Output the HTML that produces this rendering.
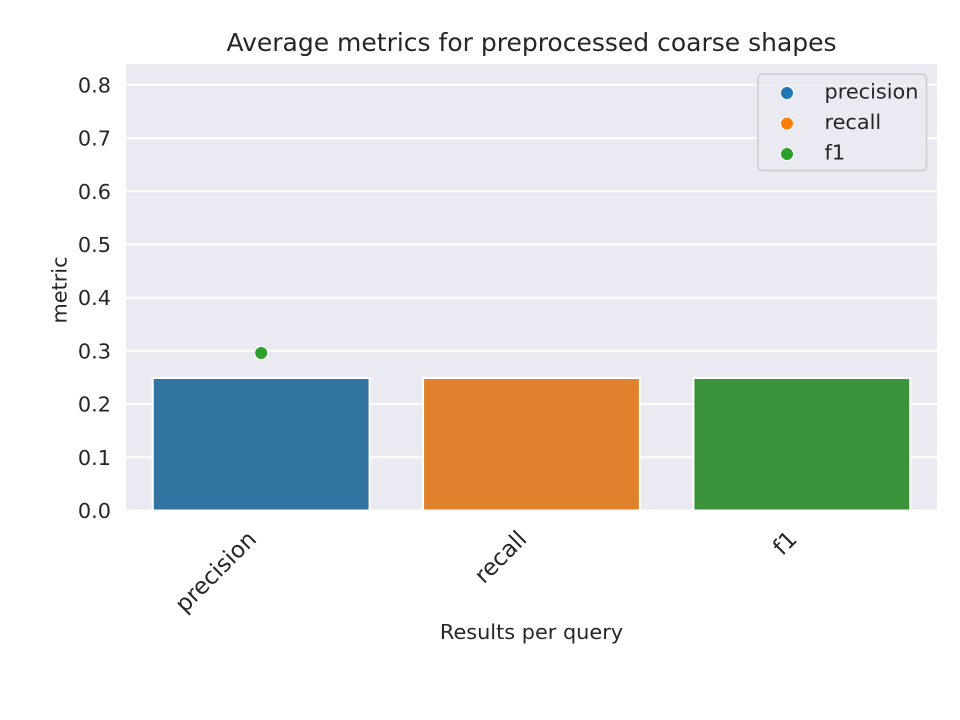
<!DOCTYPE html>
<html>
<head>
<meta charset="utf-8">
<title>Average metrics for preprocessed coarse shapes</title>
<style>
html,body{margin:0;padding:0;background:#fff;}
svg{display:block;}
text{font-family:"DejaVu Sans","Liberation Sans",sans-serif;fill:#262626;}
</style>
</head>
<body>
<svg id="chart" xmlns="http://www.w3.org/2000/svg" width="960" height="720" viewBox="0 0 960 720">
  <rect x="0" y="0" width="960" height="720" fill="#ffffff"/>
  <rect x="126" y="64" width="811" height="446.5" fill="#eaeaf2"/>
  <g id="grid"></g>
  <g id="bars"></g>
  <g id="points"></g>
  <g id="yticks"></g>
  <g id="xticks"></g>
  <text x="531.5" y="51" font-size="25" text-anchor="middle">Average metrics for preprocessed coarse shapes</text>
  <text x="531.5" y="639" font-size="20.83" text-anchor="middle">Results per query</text>
  <text x="0" y="0" font-size="20.83" text-anchor="middle" transform="translate(66.5 290) rotate(-90)">metric</text>
  <g>
    <rect x="758" y="74" width="168.5" height="96.5" rx="4" ry="4" fill="#eaeaf2" fill-opacity="0.8" stroke="#cccccc" stroke-width="1.5"/>
    <g id="legend-items"></g>
  </g>
</svg>
<script>
const categories = ["precision", "recall", "f1"];
const barValues = [0.249, 0.249, 0.249];
const pointValues = [0.296, 0.296, 0.296];
const pointSeries = ["precision", "recall", "f1"];
const yTickLabels = ["0.0", "0.1", "0.2", "0.3", "0.4", "0.5", "0.6", "0.7", "0.8"];
const barColors = ["#3274a1", "#e1812c", "#3a923a"];
const pointColors = ["#1f77b4", "#ff7f0e", "#2ca02c"];

const NS = "http://www.w3.org/2000/svg";
const plotLeft = 126, plotRight = 937, plotBottom = 510.5;
const pxPerUnit = 532;
const bandWidth = (plotRight - plotLeft) / categories.length;
const barShare = 0.802;

function yScale(v) { return plotBottom - v * pxPerUnit; }
function xScale(i) { return plotLeft + (i + 0.5) * bandWidth; }
function make(tag, attrs, parent) {
  const el = document.createElementNS(NS, tag);
  for (const k in attrs) el.setAttribute(k, attrs[k]);
  parent.appendChild(el);
  return el;
}

const gridG = document.getElementById("grid");
const yG = document.getElementById("yticks");
yTickLabels.forEach(function (label) {
  const v = parseFloat(label);
  const line = make("line", { x1: plotLeft, x2: plotRight, y1: yScale(v), y2: yScale(v), stroke: "#ffffff", "stroke-width": 2 }, gridG);
  
  
  const t = make("text", { x: 111, y: yScale(v) + 7.5, "font-size": 20.83, "text-anchor": "end" }, yG);
  t.textContent = label;
  
  
});

const barsG = document.getElementById("bars");
const xG = document.getElementById("xticks");
categories.forEach(function (cat, i) {
  const w = bandWidth * barShare;
  const top = yScale(barValues[i]);
  const bar = make("rect", { x: xScale(i) - w / 2, y: top, width: w, height: plotBottom - top, fill: barColors[i], stroke: "#ffffff", "stroke-width": 2 }, barsG);
  
  
  const t = make("text", { x: 0, y: 0, "font-size": 22.92, "text-anchor": "end", transform: "translate(" + (xScale(i) - 3.5) + " 540.5) rotate(-45)" }, xG);
  t.textContent = cat;
  
  
});

const pointsG = document.getElementById("points");
pointValues.forEach(function (v, i) {
  const c = make("circle", { cx: xScale(0), cy: yScale(v), r: 6.5, fill: pointColors[i], stroke: "#ffffff", "stroke-width": 1 }, pointsG);
  
  
});

const legendG = document.getElementById("legend-items");
const legendMarkerX = 787, legendTextX = 824.5, legendFirstY = 93, legendStep = 30.5;
pointSeries.forEach(function (name, i) {
  const y = legendFirstY + i * legendStep;
  const c = make("circle", { cx: legendMarkerX, cy: y, r: 6.5, fill: pointColors[i], stroke: "#ffffff", "stroke-width": 1 }, legendG);
  
  
  const t = make("text", { x: legendTextX, y: y + 5.5, "font-size": 20.83 }, legendG);
  t.textContent = name;
  
  
});
</script>
</body>
</html>
